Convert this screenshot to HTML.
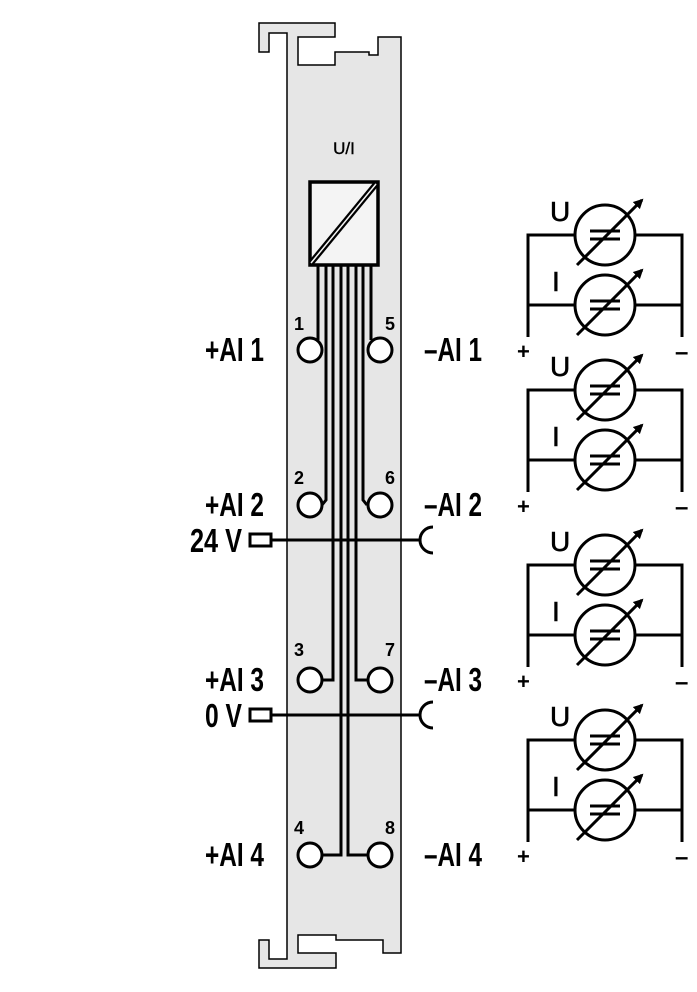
<!DOCTYPE html>
<html><head><meta charset="utf-8"><style>
html,body{margin:0;padding:0;background:#fff;}
svg{display:block;}
text{font-family:"Liberation Sans",sans-serif;fill:#000;}
</style></head><body>
<svg width="697" height="992" viewBox="0 0 697 992" xmlns="http://www.w3.org/2000/svg">
<defs>
<marker id="ah" markerWidth="10" markerHeight="10" refX="8" refY="5" orient="auto" markerUnits="userSpaceOnUse">
<path d="M0,0 L10,5 L0,10 z" fill="#000"/>
</marker>
</defs>
<path d="M259,23 L335,23 L335,37 L298,37 L298,65 L335,65 L335,52 L369,52 L369,55 L378,55 L378,37 L401,37 L401,953 L383,953 L383,940 L336,940 L336,935 L298,935 L298,953 L336,953 L336,968 L259,968 L259,940 L269,940 L269,959 L287,959 L287,33 L269,33 L269,52 L259,52 Z" fill="#e6e6e6" stroke="#000" stroke-width="1.5"/>
<text x="344" y="154" font-size="17" text-anchor="middle" stroke="#000" stroke-width="0.4">U/I</text>
<rect x="310" y="182" width="68" height="83" fill="#f4f4f4" stroke="#000" stroke-width="3.5"/>
<line x1="311" y1="263" x2="376" y2="184" stroke="#000" stroke-width="6"/>
<line x1="311" y1="263" x2="376" y2="184" stroke="#f4f4f4" stroke-width="1.5"/>
<g stroke="#000" stroke-width="3" fill="none">
<polyline points="318,265 318,340"/>
<polyline points="326,265 326,500 322,505"/>
<polyline points="333,265 333,680 322,680"/>
<polyline points="341,265 341,855 322,855"/>
<polyline points="348,265 348,855 368,855"/>
<polyline points="356,265 356,680 368,680"/>
<polyline points="363,265 363,500 367,505"/>
<polyline points="371,265 371,340"/>
<line x1="271" y1="540" x2="421" y2="540"/>
<line x1="271" y1="715" x2="421" y2="715"/>
<path d="M433,527 A13,13 0 0 0 433,553"/>
<path d="M433,702 A13,13 0 0 0 433,728"/>
<rect x="250" y="534" width="21" height="12" fill="#fff"/>
<rect x="250" y="709" width="21" height="12" fill="#fff"/>
</g>
<g stroke="#000" stroke-width="3" fill="#fff">
<circle cx="310" cy="350" r="12"/><circle cx="380" cy="350" r="12"/>
<circle cx="310" cy="505" r="12"/><circle cx="380" cy="505" r="12"/>
<circle cx="310" cy="680" r="12"/><circle cx="380" cy="680" r="12"/>
<circle cx="310" cy="855" r="12"/><circle cx="380" cy="855" r="12"/>
</g>
<g font-size="18" font-weight="bold">
<text x="294" y="330">1</text><text x="385" y="330">5</text>
<text x="294" y="484">2</text><text x="385" y="484">6</text>
<text x="294" y="656">3</text><text x="385" y="656">7</text>
<text x="294" y="834">4</text><text x="385" y="834">8</text>
</g>
<g font-size="33" font-weight="bold">
<text x="205" y="361" textLength="59" lengthAdjust="spacingAndGlyphs">+AI 1</text>
<text x="205" y="516" textLength="59" lengthAdjust="spacingAndGlyphs">+AI 2</text>
<text x="205" y="691" textLength="59" lengthAdjust="spacingAndGlyphs">+AI 3</text>
<text x="205" y="866" textLength="59" lengthAdjust="spacingAndGlyphs">+AI 4</text>
<text x="424" y="361" textLength="58" lengthAdjust="spacingAndGlyphs">–AI 1</text>
<text x="424" y="516" textLength="58" lengthAdjust="spacingAndGlyphs">–AI 2</text>
<text x="424" y="691" textLength="58" lengthAdjust="spacingAndGlyphs">–AI 3</text>
<text x="424" y="866" textLength="58" lengthAdjust="spacingAndGlyphs">–AI 4</text>
<text x="190" y="552" textLength="52" lengthAdjust="spacingAndGlyphs">24 V</text>
<text x="205" y="727" textLength="37" lengthAdjust="spacingAndGlyphs">0 V</text>
</g>
<g id="g1">
<g stroke="#000" stroke-width="3" fill="none">
<polyline points="528,337 528,235 575,235"/>
<polyline points="528,305 575,305"/>
<polyline points="682,337 682,235 635,235"/>
<polyline points="682,305 635,305"/>
<circle cx="605" cy="235" r="30"/>
<circle cx="605" cy="305" r="30"/>
<line x1="590" y1="231" x2="620" y2="231"/><line x1="590" y1="239" x2="620" y2="239"/>
<line x1="590" y1="301" x2="620" y2="301"/><line x1="590" y1="309" x2="620" y2="309"/>
<line x1="577" y1="265" x2="642" y2="200" marker-end="url(#ah)"/>
<line x1="577" y1="335" x2="642" y2="270" marker-end="url(#ah)"/>
</g>
<text x="550" y="221" font-size="28" stroke="#000" stroke-width="0.6">U</text>
<text x="552" y="291" font-size="28" stroke="#000" stroke-width="0.6">I</text>
<text x="517" y="359" font-size="22" font-weight="bold">+</text>
<text x="675" y="360" font-size="24" font-weight="bold">–</text>
</g>
<use href="#g1" transform="translate(0,155)"/>
<use href="#g1" transform="translate(0,330)"/>
<use href="#g1" transform="translate(0,505)"/>
</svg>
</body></html>
